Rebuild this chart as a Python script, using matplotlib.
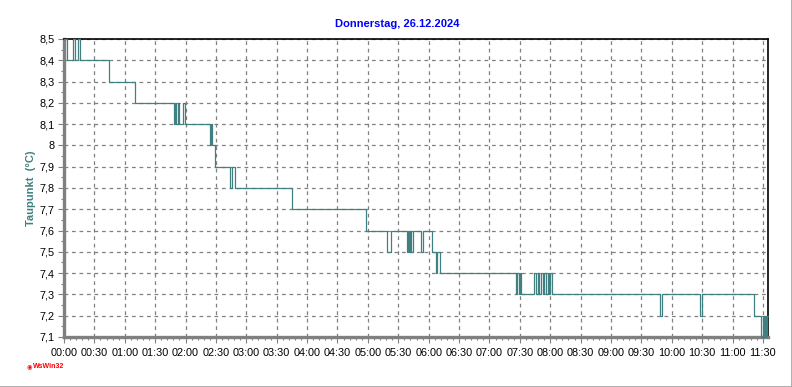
import matplotlib.pyplot as plt
from matplotlib.ticker import MultipleLocator, FuncFormatter
from matplotlib.lines import Line2D

# Dew point readings: minutes after midnight and value in degC (value holds until next reading)
minutes = [0, 3, 9, 11, 14, 16, 44, 70, 109, 110, 111, 113, 114, 117, 119,
           144, 145, 146, 149, 164, 166, 169, 225, 298, 319, 323, 339, 340,
           341, 342, 343, 345, 352, 354, 363, 367, 368, 371, 446, 447, 449,
           450, 451, 464, 466, 468, 469, 471, 473, 474, 476, 478, 479, 480,
           482, 588, 590, 628, 630, 681, 688, 690, 691, 692, 693, 694, 695]
dewpoint = [8.5, 8.4, 8.5, 8.4, 8.5, 8.4, 8.3, 8.2, 8.1, 8.2, 8.1, 8.2, 8.1, 8.2, 8.1,
            8.0, 8.1, 8.0, 7.9, 7.8, 7.9, 7.8, 7.7, 7.6, 7.5, 7.6, 7.5, 7.6,
            7.5, 7.6, 7.5, 7.6, 7.5, 7.6, 7.5, 7.4, 7.5, 7.4, 7.3, 7.4, 7.3,
            7.4, 7.3, 7.4, 7.3, 7.4, 7.3, 7.4, 7.3, 7.4, 7.3, 7.4, 7.3, 7.4,
            7.3, 7.2, 7.3, 7.2, 7.3, 7.2, 7.1, 7.2, 7.1, 7.2, 7.1, 7.2, 7.2]

title = "Donnerstag, 26.12.2024"
ylabel = "Taupunkt  (°C)"

plt.rcParams['font.family'] = ['Liberation Sans', 'DejaVu Sans']

fig = plt.figure(figsize=(7.92, 3.87), dpi=100)
ax = fig.add_axes([64 / 792, 50 / 387, 704 / 792, 298 / 387])

teal = "#408080"
ax.plot(minutes, dewpoint, color=teal, lw=0.9, drawstyle="steps-post",
        clip_on=False, zorder=3)

ax.set_xlim(0, 695)
ax.set_ylim(7.1, 8.5)

ax.xaxis.set_major_locator(MultipleLocator(30))
ax.xaxis.set_minor_locator(MultipleLocator(6))
ax.xaxis.set_major_formatter(FuncFormatter(lambda v, p: f"{int(v) // 60:02d}:{int(v) % 60:02d}"))
ax.yaxis.set_major_locator(MultipleLocator(0.1))
ax.yaxis.set_minor_locator(MultipleLocator(0.05))
ax.yaxis.set_major_formatter(FuncFormatter(lambda v, p: f"{v:.1f}".replace(".", ",").replace(",0", "")))

ax.grid(True, which="major", color="#808080", ls=(0, (3, 3)), lw=0.9)
ax.tick_params(axis="both", which="major", direction="out", length=4, width=0.8,
               color="#808080", labelsize=7.8, labelcolor="black")
ax.tick_params(axis="both", which="minor", direction="out", length=2.5, width=0.8,
               color="#808080")
ax.tick_params(axis="x", pad=4)
ax.tick_params(axis="y", pad=3)

for side in ("left", "bottom"):
    ax.spines[side].set_color("#808080")
    ax.spines[side].set_linewidth(2.4)
for side in ("top", "right"):
    ax.spines[side].set_color("black")
    ax.spines[side].set_linewidth(1.2)

fig.text(397 / 792, 1 - 24 / 387, title, color="#0000ff", fontsize=8,
         fontweight="bold", ha="center", va="center")
fig.text(31 / 792, 1 - 188 / 387, ylabel, color=teal, fontsize=8,
         fontweight="bold", rotation=90, ha="center", va="center")

# WsWin32 mark in the lower left
fig.text(29 / 792, 1 - 367 / 387, "\u25c9", color="red", fontsize=4.5,
         ha="center", va="center", family="DejaVu Sans")
fig.text(33 / 792, 1 - 367 / 387, "WsWin32", color="red", fontsize=5,
         fontweight="bold", ha="left", va="center")

# light frame on the right and bottom of the picture
fig.add_artist(Line2D([0, 1], [0.5 / 387, 0.5 / 387], color="#a0a0a0", lw=1.2,
                      transform=fig.transFigure))
fig.add_artist(Line2D([1 - 0.5 / 792, 1 - 0.5 / 792], [0, 1], color="#a0a0a0", lw=1.2,
                      transform=fig.transFigure))

fig.savefig("out.png", dpi=100)
